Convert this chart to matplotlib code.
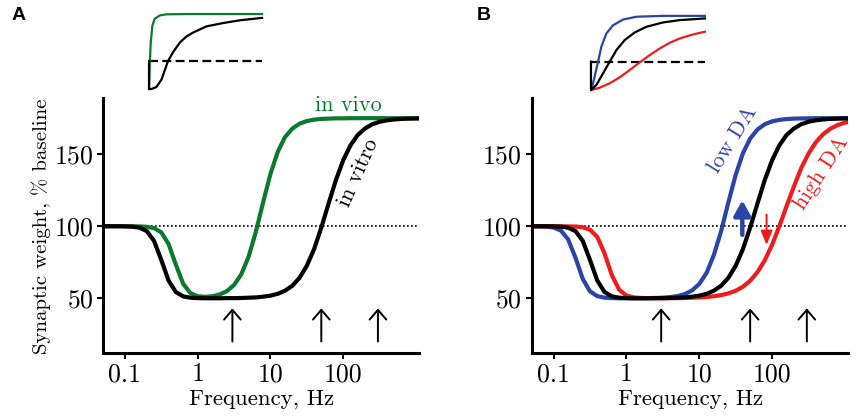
import matplotlib.pyplot as plt

plt.rcParams['font.family'] = ['cmr10', 'DejaVu Serif']
plt.rcParams['axes.formatter.use_mathtext'] = True

# frequency grid (Hz) shared by all curves
freq_hz = [0.0501, 0.0631, 0.0794, 0.1, 0.126, 0.158, 0.2, 0.251, 0.316, 0.398,
           0.501, 0.631, 0.794, 1.0, 1.26, 1.58, 2.0, 2.51, 3.16, 3.98,
           5.01, 6.31, 7.94, 10, 12.6, 15.8, 20.0, 25.1, 31.6, 39.8,
           50.1, 63.1, 79.4, 100, 126, 158, 200, 251, 316, 398,
           501, 631, 794, 1000, 1259]

in_vitro = [100.0, 100.0, 100.0, 99.9, 99.7, 99.0, 96.6, 89.9, 76.6, 62.3,
            54.3, 51.3, 50.4, 50.1, 50.0, 50.0, 50.0, 50.1, 50.1, 50.2,
            50.4, 50.6, 51.1, 51.8, 53.1, 55.2, 58.7, 64.2, 72.5, 84.1,
            99.2, 115.9, 132.1, 145.8, 156.2, 163.3, 167.9, 170.8, 172.5, 173.5,
            174.1, 174.5, 174.7, 174.8, 174.9]

in_vivo = [100.0, 100.0, 100.0, 100.0, 100.0, 99.9, 99.6, 98.7, 95.8, 87.7,
           73.4, 60.1, 53.6, 51.4, 51.0, 51.4, 52.6, 54.9, 59.2, 66.7,
           78.9, 96.2, 116.7, 136.3, 151.6, 161.8, 167.8, 171.2, 173.0, 174.0,
           174.5, 174.7, 174.9, 174.9, 175.0, 175.0, 175.0, 175.0, 175.0, 175.0,
           175.0, 175.0, 175.0, 175.0, 175.0]

low_da = [100.0, 99.9, 99.7, 99.1, 97.0, 90.9, 78.1, 63.5, 54.8, 51.5,
          50.4, 50.1, 50.0, 50.0, 50.0, 50.0, 50.1, 50.2, 50.4, 50.8,
          51.5, 52.9, 55.4, 59.9, 67.6, 79.8, 96.7, 116.5, 135.6, 150.7,
          160.9, 167.2, 170.8, 172.8, 173.8, 174.4, 174.7, 174.8, 174.9, 175.0,
          175.0, 175.0, 175.0, 175.0, 175.0]

high_da = [100.0, 100.0, 100.0, 100.0, 100.0, 99.9, 99.8, 99.3, 97.6, 92.6,
           81.1, 66.0, 56.0, 51.9, 50.6, 50.2, 50.1, 50.0, 50.0, 50.1,
           50.1, 50.2, 50.4, 50.6, 50.9, 51.4, 52.2, 53.4, 55.2, 58.0,
           62.2, 68.2, 76.4, 87.1, 100.1, 113.9, 127.8, 140.3, 150.4, 158.2,
           163.8, 167.7, 170.2, 171.9, 173.0]

# stimulation frequencies marked by arrows
arrow_hz = [3, 50, 300]
arrow_y = (20, 43)
# shift arrows in panel B
up_hz, up_y = 39, (94, 118)
down_hz, down_y = 84, (108, 87)

tick_hz = [0.1, 1, 10, 100]
tick_labels = ['0.1', '1', '10', '100']
y_ticks = [50, 100, 150]

# inset kernels (time normalised 0..1, weight in units of the dashed level)
ins_a_black_t = [0, 0, 0.021, 0.065, 0.11, 0.168, 0.214, 0.273, 0.332, 0.392, 0.51, 0.659, 0.807, 1.0]
ins_a_black_y = [1.0, 0, 0, 0.072, 0.337, 1.0, 1.325, 1.663, 1.88, 2.024, 2.241, 2.36, 2.458, 2.542]
ins_a_green_t = [0, 0.006, 0.015, 0.03, 0.05, 0.095, 0.154, 0.36, 1.0]
ins_a_green_y = [0, 0.82, 1.66, 2.27, 2.51, 2.63, 2.67, 2.68, 2.68]

ins_b_blue_t = [0.003, 0.032, 0.062, 0.091, 0.135, 0.194, 0.282, 0.399, 0.633, 1.0]
ins_b_blue_y = [0, 0.47, 1.0, 1.53, 2.0, 2.29, 2.49, 2.59, 2.62, 2.62]
ins_b_black_t = [0, 0, 0.047, 0.106, 0.164, 0.223, 0.296, 0.384, 0.487, 0.633, 0.78, 1.0]
ins_b_black_y = [1.0, 0, 0.176, 0.588, 1.0, 1.41, 1.765, 2.035, 2.235, 2.388, 2.47, 2.53]
ins_b_red_t = [0.003, 0.076, 0.164, 0.252, 0.34, 0.428, 0.516, 0.604, 0.692, 0.78, 0.897, 1.0]
ins_b_red_y = [0, 0.082, 0.235, 0.447, 0.706, 0.976, 1.235, 1.47, 1.67, 1.824, 1.965, 2.06]

green = '#0b7a2c'
blue = '#2a45a5'
red = '#ee1d1d'


def setup(ax):
    ax.set_xscale('log')
    ax.set_xlim(0.05, 1100)
    ax.set_ylim(12, 189)
    ax.spines['top'].set_visible(False)
    ax.spines['right'].set_visible(False)
    ax.spines['left'].set_linewidth(2.2)
    ax.spines['bottom'].set_linewidth(2.2)
    ax.set_xticks(tick_hz)
    ax.set_xticklabels(tick_labels)
    ax.xaxis.set_minor_locator(plt.NullLocator())
    ax.set_yticks(y_ticks)
    ax.tick_params(width=1.5, length=4, labelsize=18.5, pad=3)
    ax.axhline(100, color='k', lw=1.2, ls=(0, (1, 1.4)), zorder=1)
    for hz in arrow_hz:
        ax.annotate('', xy=(hz, arrow_y[1]), xytext=(hz, arrow_y[0]),
                    arrowprops=dict(arrowstyle='->,head_length=0.35,head_width=0.3',
                                    lw=1.4, color='k', shrinkA=0, shrinkB=0,
                                    mutation_scale=20))


def inset(rect):
    ax = fig.add_axes(rect)
    ax.set_xlim(0, 1)
    ax.set_ylim(0, 2.75)
    ax.axis('off')
    ax.plot([0, 1], [1, 1], color='k', lw=1.6, ls=(0, (4, 2)), clip_on=False)
    return ax


fig = plt.figure(figsize=(8.57, 4.16), dpi=100)

# panel A
axA = fig.add_axes([0.1202, 0.1514, 0.3687, 0.613])
setup(axA)
axA.plot(freq_hz, in_vivo, color=green, lw=3)
axA.plot(freq_hz, in_vitro, color='k', lw=3)
axA.text(117, 184, 'in vivo', color=green, fontsize=16, ha='center', va='center')
axA.text(160, 137, 'in vitro', color='k', fontsize=16, ha='center', va='center',
         rotation=66, rotation_mode='anchor')

# panel B
axB = fig.add_axes([0.6204, 0.1514, 0.369, 0.613])
setup(axB)
axB.plot(freq_hz, low_da, color=blue, lw=3)
axB.plot(freq_hz, high_da, color=red, lw=3)
axB.plot(freq_hz, in_vitro, color='k', lw=3)
axB.text(29, 160, 'low DA', color=blue, fontsize=16, ha='center', va='center',
         rotation=58, rotation_mode='anchor')
axB.text(479, 137, 'high DA', color=red, fontsize=16, ha='center', va='center',
         rotation=57, rotation_mode='anchor')
axB.annotate('', xy=(up_hz, up_y[1]), xytext=(up_hz, up_y[0]),
             arrowprops=dict(arrowstyle='-|>,head_length=0.5,head_width=0.28',
                             lw=3.2, color=blue, shrinkA=0, shrinkB=0,
                             mutation_scale=18))
axB.annotate('', xy=(down_hz, down_y[1]), xytext=(down_hz, down_y[0]),
             arrowprops=dict(arrowstyle='-|>,head_length=0.6,head_width=0.25',
                             lw=1.5, color=red, shrinkA=0, shrinkB=0,
                             mutation_scale=14))

# insets
insA = inset([0.1739, 0.786, 0.1319, 0.185])
insA.plot(ins_a_green_t, ins_a_green_y, color=green, lw=1.6, clip_on=False)
insA.plot(ins_a_black_t, ins_a_black_y, color='k', lw=1.6, clip_on=False)

insB = inset([0.6896, 0.7837, 0.133, 0.187])
insB.plot(ins_b_blue_t, ins_b_blue_y, color=blue, lw=1.6, clip_on=False)
insB.plot(ins_b_red_t, ins_b_red_y, color=red, lw=1.6, clip_on=False)
insB.plot(ins_b_black_t, ins_b_black_y, color='k', lw=1.6, clip_on=False)

# labels
fig.text(41 / 857, 1 - 226 / 416, 'Synaptic weight, % baseline', rotation=90,
         ha='center', va='center', fontsize=15)
fig.text(262 / 857, 1 - 399 / 416, 'Frequency, Hz', ha='center', va='center', fontsize=16.5)
fig.text(691 / 857, 1 - 399 / 416, 'Frequency, Hz', ha='center', va='center', fontsize=16.5)
fig.text(19 / 857, 1 - 15 / 416, 'A', ha='center', va='center', fontsize=14,
         fontweight='bold', family='Liberation Sans')
fig.text(484 / 857, 1 - 15 / 416, 'B', ha='center', va='center', fontsize=14,
         fontweight='bold', family='Liberation Sans')

fig.savefig('out.png', dpi=100)
